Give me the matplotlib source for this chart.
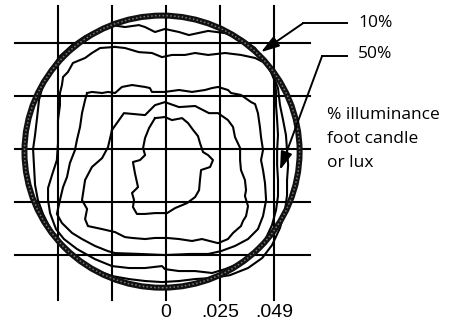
import matplotlib
matplotlib.use("Agg")
import matplotlib.pyplot as plt
from matplotlib.patches import Ellipse

# grid positions (thousandths), axis labels
grid_x = [-49, -24.5, 0, 24.5, 49]
grid_y = [49, 24.5, 0, -24.5, -49]
tick_pos = [0, 24.5, 49]
tick_labels = ["0", ".025", ".049"]

# isolux contours, innermost first
c1_x = [-5.0, -0.5, 2.7, 7.3, 10.0, 12.3, 14.5, 15.4, 16.8, 19.1, 21.3, 20.0, 15.9, 15.4, 15.0, 13.2, 9.5,
        4.1, 0.5, -5.0, -9.5, -13.2, -15.0, -14.5, -15.4, -12.7, -14.1, -15.0, -11.8, -9.5, -10.4, -9.5, -7.7, -5.0]
c1_y = [14.3, 14.8, 13.4, 14.3, 12.0, 8.8, 6.0, 2.8, -1.4, -2.8, -5.1, -8.3, -9.7, -14.3, -19.0, -22.2, -25.0,
        -27.3, -29.6, -29.6, -30.0, -30.0, -26.8, -23.6, -20.3, -17.6, -11.1, -6.0, -5.1, -2.8, 0.5, 5.1, 9.7, 14.3]

c2_x = [-24.5, -19.1, -9.5, -5.0, -0.5, 5.9, 13.2, 19.5, 23.6, 28.1, 30.4, 31.3, 33.6, 33.6, 34.0, 35.8,
        36.3, 35.8, 37.2, 36.3, 34.9, 34.0, 30.4, 28.1, 23.6, 16.3, 11.8, 5.9, 0.5, -5.0, -9.5, -15.4,
        -18.6, -23.1, -29.0, -35.4, -36.7, -35.8, -38.1, -37.6, -36.7, -33.6, -29.0, -26.3, -24.5]
c2_y = [8.8, 16.6, 15.7, 20.3, 21.7, 19.4, 19.9, 16.6, 16.6, 13.4, 10.2, 5.5, 0.5, -5.1, -9.7, -14.3,
        -19.0, -21.7, -26.4, -31.0, -33.3, -35.6, -38.8, -41.6, -43.5, -41.6, -42.5, -41.6, -41.1, -41.1, -41.6, -41.1,
        -40.7, -38.4, -37.0, -35.6, -32.4, -27.7, -23.6, -20.3, -14.3, -8.3, -4.2, 0.9, 8.8]

c3_x = [-35.8, -33.6, -29.0, -26.3, -23.1, -20.0, -15.4, -9.5, -7.3, -6.4, -0.5, 5.9, 11.8, 17.7, 20.9, 23.6,
        28.1, 29.5, 34.0, 38.6, 40.4, 41.7, 42.6, 43.1, 44.0, 43.1, 44.0, 44.9, 45.4, 44.0, 41.7, 37.2,
        31.3, 24.9, 19.1, 10.9, -0.5, -11.8, -23.1, -26.3, -32.2, -38.1, -42.6, -47.2, -49.5, -48.1, -46.7,
        -44.9, -43.6, -41.3, -40.4, -39.0, -38.1, -36.7, -35.8]
c3_y = [25.9, 26.4, 25.9, 26.4, 25.9, 28.7, 29.6, 28.7, 28.2, 26.4, 26.4, 27.3, 26.4, 27.3, 28.2, 28.7,
        27.3, 25.9, 25.0, 21.7, 20.8, 16.6, 10.2, 5.5, -0.5, -5.1, -9.7, -15.7, -23.6, -31.0, -37.0, -41.6,
        -44.8, -47.2, -48.5, -48.5, -49.0, -48.5, -48.1, -47.2, -44.8, -41.6, -38.8, -34.2, -30.0, -23.6, -17.6,
        -12.9, -6.5, -0.5, 4.2, 10.2, 16.6, 22.7, 25.9]

c4_x = [-23.1, -29.9, -33.6, -36.7, -42.2, -44.5, -46.7, -47.2, -48.1, -48.1, -49.0, -49.0, -49.5, -51.7,
        -53.5, -53.5, -52.6, -49.9, -46.3, -40.4, -32.2, -24.5, -16.8, -9.5, -1.8, -0.5, 5.9, 13.2, 20.9,
        26.8, 33.6, 40.4, 44.9, 48.1, 49.9, 50.8, 50.8, 50.4, 50.4, 50.8, 50.4, 49.9, 49.9, 49.5, 47.6,
        44.9, 40.4, 34.0, 26.8, 19.1, 13.2, 8.6, 2.7, -1.8, -6.4, -12.3, -18.6, -23.1]
c4_y = [47.2, 46.7, 44.4, 42.1, 39.8, 35.6, 33.3, 29.6, 25.9, 20.3, 13.4, 2.8, -5.1, -12.0,
        -18.0, -23.6, -29.6, -37.0, -41.6, -46.2, -50.9, -54.1, -55.0, -55.0, -54.1, -55.5, -56.4, -56.4, -57.3,
        -55.5, -52.7, -48.1, -42.1, -35.1, -28.2, -21.7, -14.3, -7.4, -0.5, 6.5, 13.4, 20.3, 26.4, 31.0, 35.6,
        39.8, 42.1, 43.5, 44.4, 43.5, 44.4, 43.5, 43.5, 42.5, 44.4, 44.8, 46.7, 47.2]

c5_x = [-24.5, -18.6, -12.3, -9.5, -5.0, -0.5, 5.9, 10.4, 19.1, 26.8, 34.0, 40.4, 44.9, 48.5, 50.8, 51.7,
        53.1, 54.4, 54.9, 55.4, 54.9, 54.9, 54.0, 51.7, 48.1, 43.6, 37.2, 29.0, 20.9, 13.2, 5.9, -1.8,
        -9.5, -16.8, -24.5, -32.2, -39.0, -44.5, -49.0, -52.6, -55.8, -58.1, -59.4, -59.9, -60.3, -59.4,
        -58.5, -57.6, -55.8, -52.6, -48.1, -42.6, -36.7, -30.9, -24.5]
c5_y = [57.3, 56.4, 57.3, 56.4, 54.1, 55.5, 54.1, 52.7, 54.6, 53.6, 51.3, 46.7, 40.2, 34.2, 28.2, 20.3,
        13.4, 6.5, -0.5, -7.4, -14.3, -21.3, -28.2, -36.5, -44.4, -50.4, -55.0, -58.3, -59.6, -60.1, -61.0, -61.5,
        -61.0, -60.1, -58.7, -55.9, -52.2, -47.6, -42.1, -36.5, -30.0, -23.6, -16.6, -7.4, 0, 6.5,
        14.3, 22.7, 29.6, 36.5, 43.0, 48.1, 52.2, 55.0, 57.3]

# lens outline
ring_center = (-1.8, -1.2)
ring_w, ring_h = 124.8, 125.8

callouts = ["10%", "50%"]
callout_text_y = [58.2, 43.9]
callout_bend = [(62.2, 58.2), (70.8, 43.0)]
callout_tip = [(43.1, 44.8), (51.7, -9.7)]
legend_lines = ["% illuminance", "foot candle", "or lux"]


def draw_chart():
    fig = plt.figure(figsize=(4.59, 3.26), dpi=100)
    ax = fig.add_axes([0, 0, 1, 1])
    ax.set_xlim(-75.3, 132.9)
    ax.set_ylim(-81.8, 68.9)
    ax.axis("off")

    # grid
    for gx in grid_x:
        ax.plot([gx, gx], [-69.8, 66.1], color="black", lw=1.5, zorder=1)
    for gy in grid_y:
        ax.plot([-68.5, 65.3], [gy, gy], color="black", lw=1.5, zorder=1)

    # contours
    for xs, ys in [(c1_x, c1_y), (c2_x, c2_y), (c3_x, c3_y), (c4_x, c4_y), (c5_x, c5_y)]:
        ax.plot(xs, ys, color="black", lw=1.5, zorder=2)

    # thick textured ring
    ax.add_patch(Ellipse(ring_center, ring_w, ring_h, fill=False, ec="#111111", lw=4.3, zorder=3))
    ax.add_patch(Ellipse(ring_center, ring_w, ring_h, fill=False, ec="#777777", lw=1.1,
                         ls=(0, (1, 1.5)), zorder=4))

    # x labels
    for pos, lab in zip(tick_pos, tick_labels):
        ax.text(pos, -75.4, lab, ha="center", va="center", fontsize=14,
                family="Liberation Sans")

    # callouts
    for lab, ty, bend, tip in zip(callouts, callout_text_y, callout_bend, callout_tip):
        ax.plot([82.1, bend[0]], [bend[1], bend[1]], color="black", lw=1.4, zorder=5)
        ax.annotate("", xy=tip, xytext=bend,
                    arrowprops=dict(arrowstyle="-|>,head_length=1.1,head_width=0.35",
                                    color="black", lw=1.4, shrinkA=0, shrinkB=0,
                                    mutation_scale=10), zorder=5)
        ax.text(87.1, ty, lab, ha="left", va="center", fontsize=12.5, family="Open Sans")

    for i, line in enumerate(legend_lines):
        ax.text(73.0, 15.7 - i * 11.1, line, ha="left", va="center", fontsize=12.5,
                family="Open Sans")

    fig.savefig("out.png", dpi=100)


if __name__ == "__main__":
    draw_chart()
